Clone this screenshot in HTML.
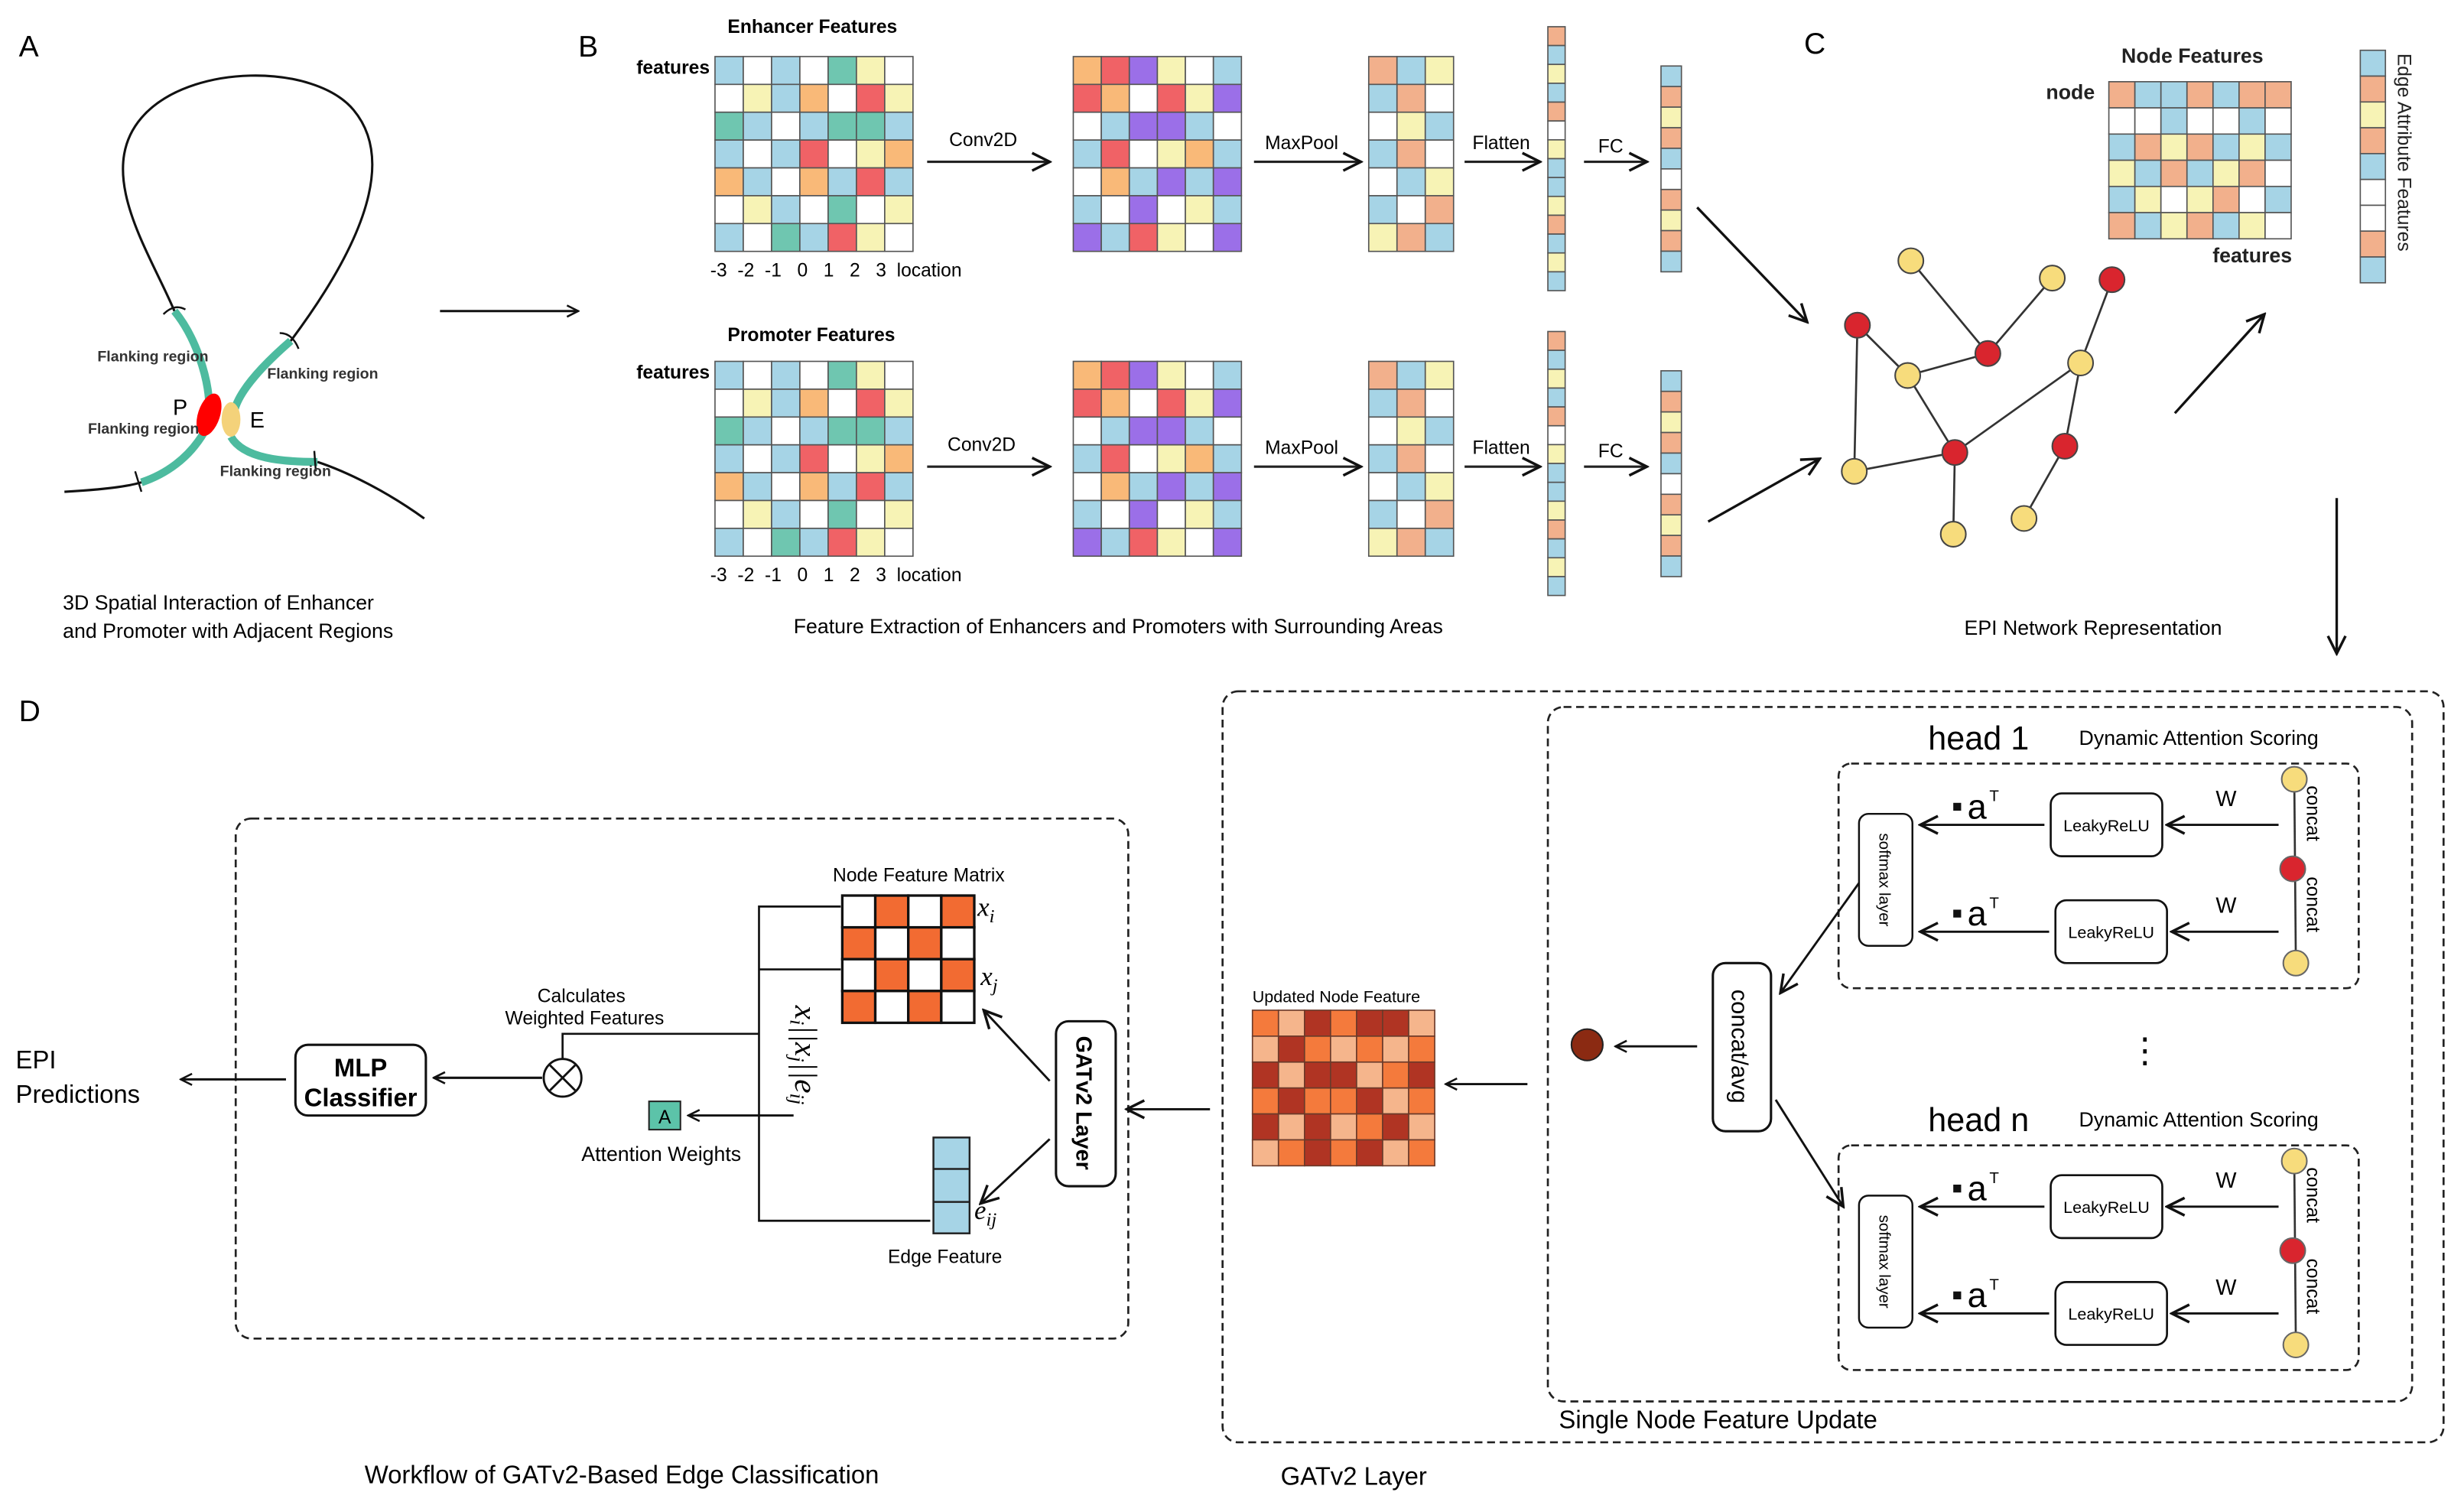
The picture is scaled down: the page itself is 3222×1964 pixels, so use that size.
<!DOCTYPE html>
<html><head><meta charset="utf-8">
<style>
html,body{margin:0;padding:0;background:#fff;}
svg{display:block;font-family:"Liberation Sans",sans-serif;}
</style></head>
<body>
<svg id="s" width="3222" height="1964" viewBox="0 0 1568 956" preserveAspectRatio="none" xmlns="http://www.w3.org/2000/svg">
<defs>
<marker id="ah" viewBox="0 0 10 10" refX="9" refY="5" markerWidth="9" markerHeight="9" markerUnits="userSpaceOnUse" orient="auto">
<path d="M1,1 L9,5 L1,9" fill="none" stroke="#111" stroke-width="1.4"/></marker>
<marker id="ah2" viewBox="0 0 10 10" refX="9" refY="5" markerWidth="14" markerHeight="14" markerUnits="userSpaceOnUse" orient="auto">
<path d="M1,1 L9,5 L1,9" fill="none" stroke="#111" stroke-width="1.2"/></marker>
</defs>
<rect width="1568" height="956" fill="#fff"/>
<g id="grids"></g>

<!-- Panel A -->
<text x="12" y="36" font-size="19">A</text>
<path d="M111,198 C95,160 60,110 90,75 C120,40 200,40 225,70 C250,100 235,150 185,217" fill="none" stroke="#111" stroke-width="1.5"/>
<path d="M41,313 C60,312 80,310 90,307" fill="none" stroke="#111" stroke-width="1.5"/>
<path d="M202,294 C220,300 245,312 270,330" fill="none" stroke="#111" stroke-width="1.5"/>
<path d="M111,198 C125,215 132,240 133,255 M130,275 C120,292 105,302 90,307" fill="none" stroke="#4dbb9f" stroke-width="5"/>
<path d="M185,217 C170,230 152,248 149,262 M147,278 C155,292 180,294 202,294" fill="none" stroke="#4dbb9f" stroke-width="5"/>
<ellipse cx="133" cy="264" rx="7" ry="14" transform="rotate(18 133 264)" fill="#f00"/>
<ellipse cx="147" cy="267" rx="6" ry="11" fill="#f4d27a"/>
<path d="M104,200 Q111,193 118,197 M178,212 Q186,212 190,222 M86,300 L90,313 M200,287 L201,300" fill="none" stroke="#111" stroke-width="1.2"/>
<g font-size="9.5" font-weight="bold" fill="#333" style="font-size:9.5px">
<text x="62" y="230">Flanking region</text>
<text x="170" y="241">Flanking region</text>
<text x="56" y="276">Flanking region</text>
<text x="140" y="303">Flanking region</text>
</g>
<text x="110" y="264" font-size="14">P</text>
<text x="159" y="272" font-size="14">E</text>
<text x="40" y="388" font-size="13">3D Spatial Interaction of Enhancer</text>
<text x="40" y="406" font-size="13">and Promoter with Adjacent Regions</text>
<line x1="280" y1="198" x2="368" y2="198" stroke="#111" stroke-width="1.5" marker-end="url(#ah)"/>

<!-- Panel B -->
<text x="368" y="36" font-size="19">B</text>
<text x="463" y="21" font-size="12" font-weight="bold">Enhancer Features</text>
<text x="463" y="217" font-size="12" font-weight="bold">Promoter Features</text>
<text x="405" y="47" font-size="12" font-weight="bold">features</text>
<text x="405" y="241" font-size="12" font-weight="bold">features</text>
<text x="452" y="176" font-size="12">-3 &#160;-2 &#160;-1 &#160; 0 &#160; 1 &#160; 2 &#160; 3 &#160;location</text>
<text x="452" y="370" font-size="12">-3 &#160;-2 &#160;-1 &#160; 0 &#160; 1 &#160; 2 &#160; 3 &#160;location</text>
<g stroke="#222" stroke-width="1.5" marker-end="url(#ah2)">
<line x1="590" y1="103" x2="668" y2="103"/><line x1="798" y1="103" x2="866" y2="103"/>
<line x1="932" y1="103" x2="980" y2="103"/><line x1="1008" y1="103" x2="1048" y2="103"/>
<line x1="590" y1="297" x2="668" y2="297"/><line x1="798" y1="297" x2="866" y2="297"/>
<line x1="932" y1="297" x2="980" y2="297"/><line x1="1008" y1="297" x2="1048" y2="297"/>
</g>
<g font-size="12">
<text x="604" y="93">Conv2D</text><text x="805" y="95">MaxPool</text><text x="937" y="95">Flatten</text><text x="1017" y="97">FC</text>
<text x="603" y="287">Conv2D</text><text x="805" y="289">MaxPool</text><text x="937" y="289">Flatten</text><text x="1017" y="291">FC</text>
</g>
<text x="505" y="403" font-size="13">Feature Extraction of Enhancers and Promoters with Surrounding Areas</text>

<!-- Panel C -->
<text x="1148" y="34" font-size="19">C</text>
<text x="1350" y="40" font-size="13" font-weight="bold" fill="#222">Node Features</text>
<text x="1302" y="63" font-size="13" font-weight="bold" fill="#222">node</text>
<text x="1408" y="167" font-size="13" font-weight="bold" fill="#222">features</text>
<text transform="translate(1526,34) rotate(90)" font-size="12" fill="#222">Edge Attribute Features</text>
<g stroke="#333" stroke-width="1.3">
<line x1="1216" y1="166" x2="1265" y2="225"/><line x1="1306" y1="177" x2="1265" y2="225"/>
<line x1="1182" y1="207" x2="1214" y2="239"/><line x1="1214" y1="239" x2="1265" y2="225"/>
<line x1="1182" y1="207" x2="1180" y2="300"/><line x1="1214" y1="239" x2="1244" y2="288"/>
<line x1="1180" y1="300" x2="1244" y2="288"/><line x1="1244" y1="288" x2="1243" y2="340"/>
<line x1="1244" y1="288" x2="1324" y2="231"/><line x1="1324" y1="231" x2="1344" y2="178"/>
<line x1="1324" y1="231" x2="1314" y2="284"/><line x1="1314" y1="284" x2="1288" y2="330"/>
</g>
<g stroke="#444" stroke-width="1">
<circle cx="1216" cy="166" r="8" fill="#f7dc7c"/><circle cx="1306" cy="177" r="8" fill="#f7dc7c"/>
<circle cx="1214" cy="239" r="8" fill="#f7dc7c"/><circle cx="1324" cy="231" r="8" fill="#f7dc7c"/>
<circle cx="1180" cy="300" r="8" fill="#f7dc7c"/><circle cx="1243" cy="340" r="8" fill="#f7dc7c"/>
<circle cx="1288" cy="330" r="8" fill="#f7dc7c"/>
<circle cx="1182" cy="207" r="8" fill="#d9252e"/><circle cx="1265" cy="225" r="8" fill="#d9252e"/>
<circle cx="1344" cy="178" r="8" fill="#d9252e"/><circle cx="1244" cy="288" r="8" fill="#d9252e"/>
<circle cx="1314" cy="284" r="8" fill="#d9252e"/>
</g>
<g stroke="#111" stroke-width="1.6" marker-end="url(#ah2)">
<line x1="1080" y1="132" x2="1150" y2="205"/><line x1="1087" y1="332" x2="1158" y2="292"/>
<line x1="1384" y1="263" x2="1441" y2="200"/><line x1="1487" y1="317" x2="1487" y2="416"/>
</g>
<text x="1250" y="404" font-size="13">EPI Network Representation</text>

<!-- Panel D -->
<text x="12" y="459" font-size="19">D</text>
<rect x="150" y="521" width="568" height="331" rx="10" fill="none" stroke="#222" stroke-width="1.3" stroke-dasharray="5,3"/>
<text x="10" y="680" font-size="16">EPI</text><text x="10" y="702" font-size="16">Predictions</text>
<line x1="182" y1="687" x2="115" y2="687" stroke="#111" stroke-width="1.5" marker-end="url(#ah)"/>
<rect x="188" y="665" width="83" height="45" rx="8" fill="#fff" stroke="#111" stroke-width="1.5"/>
<text x="229.5" y="685" font-size="16" font-weight="bold" text-anchor="middle">MLP</text>
<text x="229.5" y="704" font-size="16" font-weight="bold" text-anchor="middle">Classifier</text>
<line x1="345" y1="686" x2="276" y2="686" stroke="#111" stroke-width="1.5" marker-end="url(#ah)"/>
<circle cx="358" cy="686" r="12" fill="#fff" stroke="#111" stroke-width="1.4"/>
<path d="M350,678 L366,694 M366,678 L350,694" stroke="#111" stroke-width="1.4"/>
<text x="370" y="638" font-size="12" text-anchor="middle">Calculates</text>
<text x="372" y="652" font-size="12" text-anchor="middle">Weighted Features</text>
<path d="M358,674 L358,658 L483,658 M535,577 L483,577 L483,777 L592,777 M483,617 L535,617" fill="none" stroke="#111" stroke-width="1.3"/>
<rect x="413" y="701" width="20" height="18" fill="#5cc3a9" stroke="#222" stroke-width="1"/>
<text x="423" y="715" font-size="12" text-anchor="middle">A</text>
<line x1="505" y1="710" x2="438" y2="710" stroke="#111" stroke-width="1.4" marker-end="url(#ah)"/>
<text x="370" y="739" font-size="13">Attention Weights</text>
<text transform="translate(506,640) rotate(90)" font-size="20" font-style="italic" font-family="Liberation Serif,serif">x<tspan font-size="13" dy="3">i</tspan><tspan dy="-3">||x</tspan><tspan font-size="13" dy="3">j</tspan><tspan dy="-3">||e</tspan><tspan font-size="13" dy="3">ij</tspan></text>
<text x="530" y="561" font-size="12">Node Feature Matrix</text>
<text x="622" y="583" font-size="17" font-style="italic" font-family="Liberation Serif,serif">x<tspan font-size="12" dy="4">i</tspan></text>
<text x="624" y="627" font-size="17" font-style="italic" font-family="Liberation Serif,serif">x<tspan font-size="12" dy="4">j</tspan></text>
<text x="620" y="776" font-size="17" font-style="italic" font-family="Liberation Serif,serif">e<tspan font-size="12" dy="4">ij</tspan></text>
<rect x="594" y="724" width="23" height="61" fill="#a6d4e6" stroke="#222" stroke-width="1.2"/>
<path d="M594,744 L617,744 M594,765 L617,765" stroke="#222" stroke-width="1.2"/>
<text x="565" y="804" font-size="12">Edge Feature</text>
<rect x="672" y="650" width="38" height="105" rx="8" fill="#fff" stroke="#111" stroke-width="1.5"/>
<text transform="translate(685,702) rotate(90)" font-size="14" font-weight="bold" text-anchor="middle">GATv2 Layer</text>
<g stroke="#111" stroke-width="1.4" marker-end="url(#ah2)">
<line x1="668" y1="688" x2="626" y2="643"/><line x1="668" y1="725" x2="624" y2="766"/>
<line x1="770" y1="706" x2="717" y2="706"/>
</g>
<text x="232" y="944" font-size="16">Workflow of GATv2-Based Edge Classification</text>

<rect x="778" y="440" width="777" height="478" rx="10" fill="none" stroke="#222" stroke-width="1.3" stroke-dasharray="5,3"/>
<text x="815" y="945" font-size="16">GATv2 Layer</text>
<text x="797" y="638" font-size="10.5">Updated Node Feature</text>
<line x1="972" y1="690" x2="920" y2="690" stroke="#111" stroke-width="1.4" marker-end="url(#ah)"/>
<circle cx="1010" cy="665" r="10" fill="#8b2a12" stroke="#222" stroke-width="1"/>
<line x1="1080" y1="666" x2="1028" y2="666" stroke="#111" stroke-width="1.4" marker-end="url(#ah)"/>
<rect x="1090" y="613" width="37" height="107" rx="8" fill="#fff" stroke="#111" stroke-width="1.5"/>
<text transform="translate(1102,666) rotate(90)" font-size="15" text-anchor="middle">concat/avg</text>
<rect x="985" y="450" width="550" height="442" rx="10" fill="none" stroke="#222" stroke-width="1.3" stroke-dasharray="5,3"/>
<text x="992" y="909" font-size="16">Single Node Feature Update</text>
<text x="1365" y="676" font-size="22" text-anchor="middle">&#8942;</text>
<g id="heads"></g>
<g stroke="#111" stroke-width="1.4" marker-end="url(#ah2)">
<line x1="1183" y1="562" x2="1133" y2="632"/>
<line x1="1130" y1="700" x2="1173" y2="768"/>
</g>
</svg>
<script>
const C={B:"#a6d4e6",W:"#ffffff",Y:"#f7f3b5",T:"#6fc6b0",O:"#f9b978",R:"#f06266",P:"#9b6fe8",S:"#f2b08c",o:"#f47a3c",l:"#f5b58c",d:"#b03423",q:"#f26b32"};
const NS="http://www.w3.org/2000/svg";
const g=document.getElementById("grids");
function grid(x,y,w,h,rows,sw,sc){
 const nr=rows.length,nc=rows[0].length,cw=w/nc,ch=h/nr;
 rows.forEach((r,i)=>{[...r].forEach((c,j)=>{const e=document.createElementNS(NS,"rect");
 e.setAttribute("x",x+j*cw);e.setAttribute("y",y+i*ch);e.setAttribute("width",cw);e.setAttribute("height",ch);
 e.setAttribute("fill",C[c]);e.setAttribute("stroke",sc||"#555");e.setAttribute("stroke-width",sw||0.8);g.appendChild(e);});});
}
const enh=["BWBWTYW","WYBOWRY","TBWBTTB","BWBRWYO","OBWOBRB","WYBWTWY","BWTBRYW"];
const cv=["ORPYWB","ROWRYP","WBPPBW","BRWYOB","WOBPBP","BWPWYB","PBRYWP"];
const mp=["SBY","BSW","WYB","BSW","WBY","BWS","YSB"];
const fl="SBYBSWYBBYSBYB".split("");
const fc="BSYSBWSYSB".split("");
[0,194].forEach(dy=>{
 grid(455,36+dy,126,124,enh);
 grid(683,36+dy,107,124,cv);
 grid(871,36+dy,54,124,mp);
 grid(985,17+dy,11,168,fl);
 grid(1057,42+dy,13,131,fc);
});
grid(1342,52,116,100,["SBBSBSS","WWBWWBW","BSYSBYB","YBSBYSW","BYWYSWB","SBYSBYW"]);
grid(1502,32,16,148,"BSYSBWWSB".split(""));
grid(536,570,84,81,["WqWq","qWqW","WqWq","qWqW"],1.6,"#111");
grid(797,643,116,99,["oldoddl","ldololo","dlddlod","odoodlo","dldlodl","lododlo"],0.8,"#6b3a2a");
const H=document.getElementById("heads");
function add(tag,attrs,txt){const e=document.createElementNS(NS,tag);for(const k in attrs)e.setAttribute(k,attrs[k]);if(txt)e.textContent=txt;H.appendChild(e);return e;}
function head(dy,label){
 add("text",{x:1227,y:477+dy,"font-size":21},label);
 add("text",{x:1323,y:474+dy,"font-size":13},"Dynamic Attention Scoring");
 add("rect",{x:1170,y:486+dy,width:331,height:143,rx:8,fill:"none",stroke:"#222","stroke-width":1.3,"stroke-dasharray":"5,3"});
 add("rect",{x:1183,y:518+dy,width:34,height:84,rx:6,fill:"#fff",stroke:"#111","stroke-width":1.2});
 add("text",{transform:`translate(1196,${560+dy}) rotate(90)`,"font-size":10,"text-anchor":"middle"},"softmax layer");
 add("line",{x1:1460,y1:496+dy,x2:1461,y2:613+dy,stroke:"#333","stroke-width":1.3});
 [[1305,505],[1308,573]].forEach(([bx,by],k)=>{
  const yy=by+20+dy;
  add("rect",{x:bx,y:by+dy,width:71,height:40,rx:7,fill:"#fff",stroke:"#111","stroke-width":1.3});
  add("text",{x:bx+35.5,y:yy+4,"font-size":10.5,"text-anchor":"middle"},"LeakyReLU");
  add("line",{x1:1450,y1:yy,x2:bx+74,y2:yy,stroke:"#111","stroke-width":1.4,"marker-end":"url(#ah2)"});
  add("line",{x1:bx-4,y1:yy,x2:1222,y2:yy,stroke:"#111","stroke-width":1.4,"marker-end":"url(#ah2)"});
  add("text",{x:1410,y:yy-12,"font-size":14},"W");
  add("rect",{x:1243,y:yy-14,width:5,height:5,fill:"#111"});
  add("text",{x:1252,y:yy-4,"font-size":22},"a");
  add("text",{x:1266,y:yy-15,"font-size":10},"T");
  add("text",{transform:`translate(1468,${(k?558:500)+dy}) rotate(90)`,"font-size":12},"concat");
 });
 add("circle",{cx:1460,cy:496+dy,r:8,fill:"#f7dc7c",stroke:"#666","stroke-width":1});
 add("circle",{cx:1459,cy:553+dy,r:8,fill:"#d9252e",stroke:"#666","stroke-width":1});
 add("circle",{cx:1461,cy:613+dy,r:8,fill:"#f7dc7c",stroke:"#666","stroke-width":1});
}
head(0,"head 1");head(243,"head n");
</script>
</body></html>
